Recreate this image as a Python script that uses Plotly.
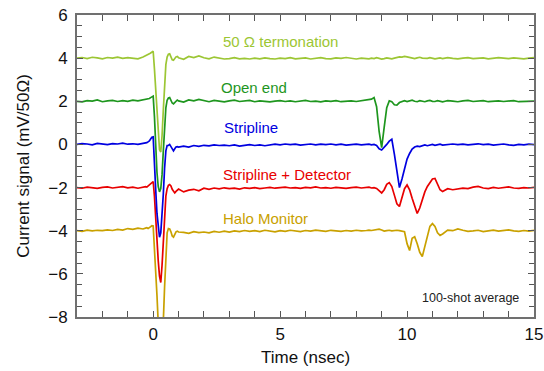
import plotly.graph_objects as go

# Time axis (ns), written out in segments
t_a = [-3.0, -2.8, -2.6, -2.4, -2.2, -2.0, -1.8, -1.6, -1.4, -1.2, -1.0, -0.8, -0.6, -0.4]
t_b = [-0.3, -0.25, -0.2, -0.15, -0.1, -0.05, 0.0, 0.05, 0.1, 0.15, 0.2, 0.25, 0.3, 0.35,
       0.4, 0.45, 0.5, 0.55, 0.6, 0.65, 0.7, 0.75, 0.8, 0.85, 0.9, 0.95, 1.0]
t_c = [1.2, 1.4, 1.6, 1.8, 2.0, 2.2, 2.4, 2.6, 2.8, 3.0, 3.2, 3.4, 3.6, 3.8, 4.0, 4.2, 4.4,
       4.6, 4.8, 5.0, 5.2, 5.4, 5.6, 5.8, 6.0, 6.2, 6.4, 6.6, 6.8, 7.0, 7.2, 7.4, 7.6, 7.8,
       8.0, 8.2, 8.4]
t_d = [8.5, 8.6, 8.7, 8.8, 8.9, 9.0, 9.1, 9.2, 9.3, 9.4, 9.5, 9.6, 9.7, 9.8, 9.9, 10.0,
       10.1, 10.2, 10.3, 10.4, 10.5, 10.6, 10.7, 10.8, 10.9, 11.0, 11.1, 11.2, 11.3, 11.4,
       11.5, 11.6]
t_e = [11.8, 12.0, 12.2, 12.4, 12.6, 12.8, 13.0, 13.2, 13.4, 13.6, 13.8, 14.0, 14.2, 14.4,
       14.6, 14.8, 15.0]
time_ns = t_a + t_b + t_c + t_d + t_e

# 50 Ohm termination (mV)
term50 = (
    [4.00, 4.03, 3.98, 4.04, 4.01, 3.97, 4.03, 4.00, 4.05, 3.99, 4.02, 3.98, 3.97, 4.05]
    + [4.10, 4.12, 4.16, 4.20, 4.24, 4.30, 4.32, 3.5, 2.4, 1.4, 0.4, -0.25, -0.35, 0.4,
       1.6, 2.85, 3.7, 4.05, 4.18, 4.20, 4.05, 3.92, 3.90, 3.98, 4.06, 4.08, 4.02]
    + [3.95, 4.08, 4.03, 4.10, 4.02, 3.97, 4.05, 4.02, 3.96, 3.98, 4.02, 3.97, 3.99, 3.96,
       4.00, 3.97, 4.01, 3.98, 3.96, 4.00, 3.98, 4.02, 3.97, 3.99, 4.01, 3.96, 3.99, 4.02,
       3.98, 3.97, 4.01, 3.99, 4.03, 3.98, 3.96, 4.00, 3.98]
    + [3.97, 4.00, 3.98, 4.02, 3.99, 3.96, 3.98, 4.01, 3.99, 3.97, 4.00, 4.03, 4.06, 4.05,
       4.08, 4.06, 4.04, 4.01, 3.98, 4.01, 4.04, 4.00, 3.98, 3.99, 4.02, 4.00, 3.97, 3.99,
       4.01, 3.98, 3.99, 4.02]
    + [3.99, 3.97, 4.00, 4.02, 3.98, 3.99, 4.01, 3.97, 3.99, 4.02, 4.00, 3.98, 4.01, 3.99,
       3.97, 4.00, 4.02]
)

# Open end
open_end = (
    [2.00, 1.97, 2.03, 2.01, 2.06, 1.98, 2.02, 2.04, 1.99, 2.03, 2.00, 2.05, 2.02, 2.06]
    + [2.08, 2.10, 2.09, 2.13, 2.17, 2.22, 2.24, 1.3, -0.2, -1.3, -1.95, -2.2, -2.05, -1.4,
       -0.3, 0.8, 1.7, 2.05, 2.15, 2.17, 2.05, 1.92, 1.88, 1.95, 2.03, 2.06, 2.02]
    + [1.96, 2.06, 2.02, 2.09, 2.03, 1.98, 2.04, 2.00, 1.97, 2.02, 2.05, 1.99, 2.01, 2.04,
       1.98, 2.02, 2.00, 1.97, 2.01, 2.03, 1.99, 2.02, 1.98, 2.00, 2.04, 1.99, 2.01, 1.97,
       2.02, 2.00, 2.03, 1.98, 2.01, 2.02, 1.99, 2.02, 2.05]
    + [2.06, 2.10, 2.17, 1.75, 0.6, -0.15, 0.8, 1.7, 2.02, 1.98, 1.84, 1.82, 1.94, 2.00,
       2.03, 1.99, 2.02, 2.05, 2.00, 1.98, 2.03, 2.01, 1.98, 2.02, 2.04, 2.00, 1.99, 2.03,
       2.01, 1.97, 2.00, 2.03]
    + [2.01, 1.98, 2.02, 2.04, 1.99, 2.01, 2.03, 1.98, 2.00, 2.02, 1.99, 2.01, 2.03, 1.98,
       2.00, 2.02, 2.01]
)

# Stripline
stripline = (
    [0.00, 0.04, 0.02, -0.02, 0.05, 0.03, -0.01, 0.04, 0.02, 0.06, 0.01, 0.03, 0.00, 0.05]
    + [0.06, 0.08, 0.12, 0.16, 0.25, 0.33, 0.35, -0.6, -2.1, -3.2, -3.95, -4.3, -4.1, -3.4,
       -2.3, -1.1, -0.3, -0.05, -0.05, 0.0, -0.12, -0.25, -0.3, -0.2, -0.12, -0.1, -0.12]
    + [-0.08, -0.12, -0.05, -0.09, -0.04, -0.07, -0.02, -0.05, -0.03, -0.06, -0.02, -0.08,
       -0.04, -0.01, -0.05, -0.02, -0.06, -0.03, 0.01, -0.02, 0.02, -0.01, 0.01, -0.03,
       0.00, 0.02, -0.02, 0.01, -0.01, 0.02, -0.02, 0.01, -0.03, -0.01, 0.01, -0.02, 0.00]
    + [0.01, -0.02, 0.00, -0.05, -0.2, -0.26, -0.15, 0.0, 0.15, 0.24, -0.45, -1.3, -2.0,
       -1.6, -1.1, -0.68, -0.42, -0.22, -0.12, -0.08, -0.1, -0.05, -0.02, -0.06, -0.03,
       0.00, -0.04, -0.02, 0.01, -0.03, -0.01, 0.00]
    + [0.02, -0.01, 0.01, -0.02, 0.00, 0.03, -0.01, 0.01, -0.03, 0.00, 0.02, -0.02, -0.04,
       0.00, -0.02, 0.01, -0.01]
)

# Stripline + Detector
strip_det = (
    [-2.00, -2.03, -1.98, -2.01, -2.04, -1.99, -1.97, -2.02, -2.00, -1.96, -2.01, -1.98,
     -2.03, -1.97]
    + [-1.96, -1.98, -1.93, -1.88, -1.82, -1.75, -1.72, -2.4, -3.6, -4.5, -5.4, -6.1, -6.4,
       -5.6, -4.6, -3.4, -2.4, -2.05, -1.9, -1.86, -1.92, -2.08, -2.2, -2.25, -2.18, -2.1,
       -2.07]
    + [-2.2, -2.12, -2.08, -2.15, -2.03, -2.08, -2.02, -2.06, -2.01, -2.05, -2.03, -2.07,
       -2.01, -2.04, -2.00, -2.05, -2.02, -1.99, -2.03, -2.01, -1.98, -2.02, -2.00, -2.04,
       -1.99, -2.01, -1.97, -2.02, -2.00, -2.03, -1.99, -2.01, -2.04, -2.00, -1.98, -2.02,
       -2.00]
    + [-1.98, -2.02, -2.00, -2.04, -2.15, -2.25, -2.1, -1.85, -1.77, -1.95, -2.35, -2.75,
       -2.88, -2.5, -2.05, -1.88, -2.1, -2.5, -2.9, -3.2, -2.95, -2.55, -2.2, -1.95, -1.75,
       -1.6, -1.58, -1.85, -2.1, -2.18, -2.1, -2.05]
    + [-2.1, -2.08, -2.03, -2.05, -1.98, -1.95, -2.02, -2.05, -1.99, -2.03, -2.00, -1.97,
       -2.02, -2.04, -2.00, -2.02, -1.99]
)

# Halo Monitor
halo = (
    [-4.00, -4.03, -3.97, -4.01, -3.98, -4.00, -3.96, -3.99, -3.94, -3.97, -3.90, -3.94,
     -3.88, -3.92]
    + [-3.88, -3.86, -3.90, -3.85, -3.80, -3.77, -3.78, -4.7, -5.6, -7.0, -8.3, -8.9, -9.0,
       -8.8, -8.2, -6.6, -5.0, -4.1, -3.9, -3.92, -4.05, -4.25, -4.3, -4.15, -4.05, -4.02,
       -4.06]
    + [-4.08, -4.12, -4.04, -4.09, -4.06, -4.10, -4.03, -4.07, -4.02, -4.06, -4.01, -4.04,
       -3.99, -4.03, -4.00, -4.04, -3.98, -4.02, -4.05, -4.00, -4.03, -3.98, -4.01, -4.04,
       -3.99, -4.02, -3.97, -4.01, -4.03, -3.98, -4.00, -4.03, -3.99, -4.02, -3.98, -4.01,
       -3.99]
    + [-3.97, -3.99, -3.96, -3.94, -3.93, -3.97, -4.02, -4.00, -3.98, -4.01, -3.99, -3.98,
       -4.00, -4.02, -4.05, -4.6, -4.92, -4.35, -4.28, -4.6, -5.0, -5.2, -4.75, -4.2, -3.8,
       -3.67, -3.8, -4.1, -4.22, -4.15, -4.05, -3.97]
    + [-4.00, -3.92, -3.98, -4.03, -4.01, -3.98, -4.04, -4.00, -3.97, -4.02, -4.00, -3.96,
       -4.01, -4.03, -3.99, -4.02, -3.98]
)

series_names = ["Halo Monitor", "Stripline + Detector", "Stripline", "Open end", "50 \u03a9 termonation"]
series_values = [halo, strip_det, stripline, open_end, term50]
series_colors = ["#c9a100", "#e80000", "#0000e0", "#1e961e", "#9cc634"]

label_x = [2.68, 2.68, 2.7, 2.6, 2.68]
label_y = [-3.44, -1.41, 0.77, 2.62, 4.75]

FONT = "Arial, Liberation Sans"

fig = go.Figure()
for name, vals, col in zip(series_names, series_values, series_colors):
    assert len(vals) == len(time_ns), name
    fig.add_trace(go.Scatter(x=time_ns, y=vals, mode="lines", name=name,
                             line=dict(color=col, width=1.7), showlegend=False))

for name, col, lx, ly in zip(series_names, series_colors, label_x, label_y):
    fig.add_annotation(x=lx, y=ly, xref="x", yref="y", text=name, showarrow=False,
                       xanchor="left", font=dict(color=col, size=15, family=FONT))

fig.add_annotation(x=12.5, y=-7.1, xref="x", yref="y", text="100-shot average",
                   showarrow=False, font=dict(color="#222222", size=12.5, family=FONT))

axis_common = dict(showline=True, linecolor="#707070", linewidth=2, mirror="ticks",
                   ticks="inside", tickcolor="#555555", tickwidth=1, showgrid=False,
                   zeroline=False, automargin=False,
                   tickfont=dict(size=17, color="#111111", family=FONT))

fig.update_xaxes(range=[-3, 15], dtick=5, tick0=0, ticklen=6, ticklabelstandoff=1,
                 minor=dict(dtick=1, ticks="inside", ticklen=6, tickcolor="#555555", showgrid=False),
                 title=dict(text="Time (nsec)", font=dict(size=17, color="#111111", family=FONT),
                            standoff=8),
                 **axis_common)
fig.update_yaxes(range=[-8, 6], dtick=2, tick0=0, ticklen=6, ticklabelstandoff=4,
                 minor=dict(dtick=0.5, ticks="inside", ticklen=5, tickcolor="#555555", showgrid=False),
                 title=dict(text="Current signal (mV/50\u03a9)", font=dict(size=17, color="#111111", family=FONT),
                            standoff=14),
                 **axis_common)

fig.update_layout(width=544, height=371, margin=dict(l=77, r=10, t=15, b=54),
                  plot_bgcolor="white", paper_bgcolor="white")

fig.write_html("out.html")
